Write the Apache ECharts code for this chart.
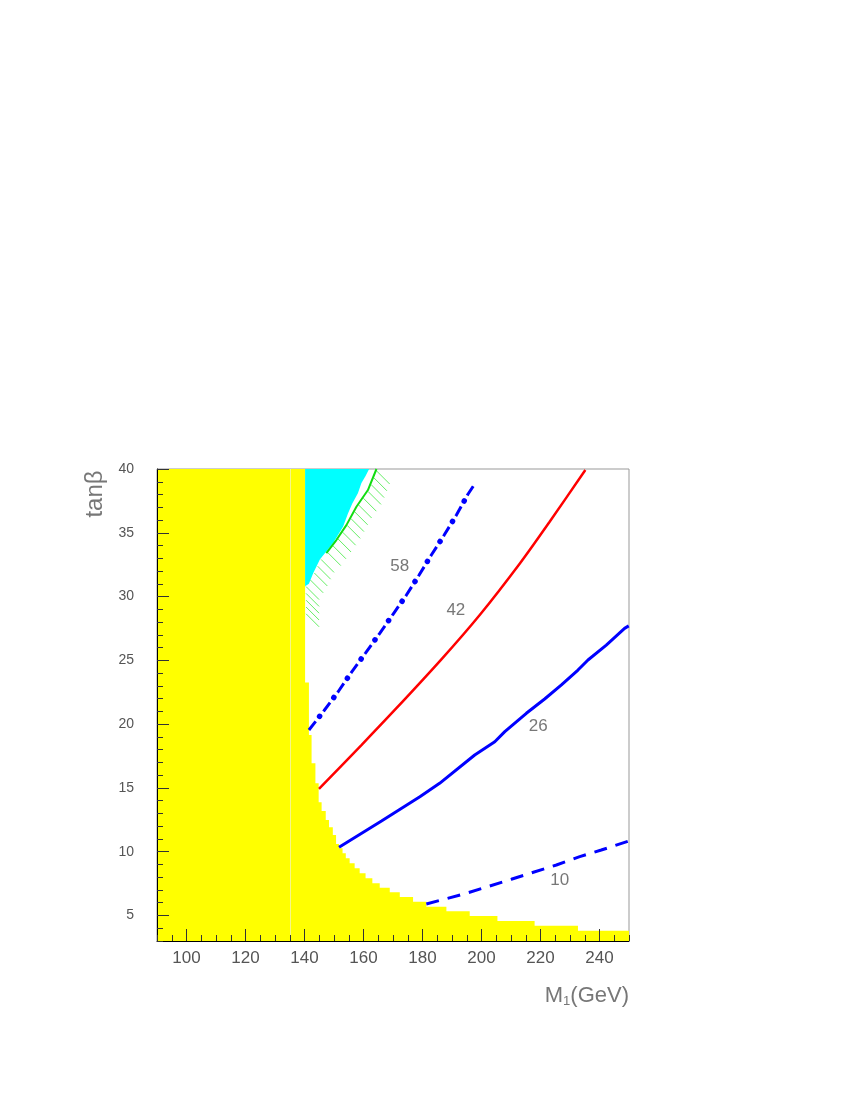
<!DOCTYPE html>
<html>
<head>
<meta charset="utf-8">
<script src="https://cdn.jsdelivr.net/npm/echarts@6/dist/echarts.min.js"></script>
<style>html,body{margin:0;padding:0;background:#fff}#c{width:850px;height:1100px}</style>
</head>
<body>
<div id="c"></div>
<script>
// ---------- data ----------
const xMajor = [100, 120, 140, 160, 180, 200, 220, 240];
const yMajor = [5, 10, 15, 20, 25, 30, 35, 40];

// excluded (yellow) region: step boundary, each y holds from its x to the next x
const yellowX = [90, 140.2, 141.5, 142.4, 143.7, 144.8, 145.8, 147.2, 148.3, 149.6, 150.7, 151.7, 152.9, 154.0, 155.3, 157.0, 158.7, 160.7, 163.0, 165.5, 168.9, 172.3, 176.8, 181.3, 188.1, 196.0, 205.4, 218.0, 232.7, 250];
const yellowY = [40, 23.26, 19.15, 16.93, 15.36, 13.87, 13.19, 12.49, 11.91, 11.31, 10.6, 10.27, 9.87, 9.48, 9.09, 8.70, 8.31, 7.92, 7.52, 7.18, 6.82, 6.45, 6.08, 5.69, 5.33, 4.96, 4.57, 4.20, 3.81, 3.81];
const faintLineX = 135;

// cyan region outline
const cyanX = [140.2, 161.9, 160.7, 159.3, 158.1, 156.2, 154.7, 153.1, 149.7, 145.2, 142.9, 141.5, 140.2];
const cyanY = [40, 40, 39.45, 38.9, 38.1, 37.3, 36.5, 35.5, 34.2, 32.9, 31.8, 31.0, 30.8];

// green limit curve
const greenX = [147.4, 150.8, 154.2, 157.6, 161.5, 164.4];
const greenY = [33.4, 34.43, 35.6, 37.04, 38.35, 40];

// hatched boundary (cyan edge continued by the green curve)
const hatchX = [140.2, 140.2, 142.9, 145.2, 147.4, 150.8, 154.2, 157.6, 161.5, 164.4];
const hatchY = [28.2, 30.8, 31.8, 32.9, 33.4, 34.43, 35.6, 37.04, 38.35, 40];

// contour 58 (blue dash-dot)
const c58X = [141.5, 146.6, 151.4, 155.9, 160.6, 165.5, 170.0, 174.5, 178.8, 183.0, 187.3, 191.5, 195.4, 197.7];
const c58Y = [19.54, 21.05, 22.54, 24.06, 25.55, 27.12, 28.61, 30.1, 31.67, 33.26, 34.8, 36.39, 38.02, 38.82];

// contour 42 (red)
const c42X = [144.9, 159.3, 170.6, 186.4, 199.4, 213.0, 223.1, 235.2];
const c42Y = [14.92, 18.36, 21.11, 25.08, 28.56, 32.6, 35.87, 39.92];

// contour 26 (blue solid)
const c26X = [151.7, 166.1, 179.1, 185.8, 197.7, 204.5, 207.9, 215.2, 221.4, 227.1, 232.7, 236.1, 242.3, 248.5, 249.9];
const c26Y = [10.35, 12.41, 14.31, 15.36, 17.58, 18.62, 19.41, 20.85, 21.97, 23.07, 24.24, 25.03, 26.2, 27.51, 27.7];

// contour 10 (blue dashed)
const c10X = [181.3, 194.9, 210.1, 225.4, 233.3, 240.6, 249.9];
const c10Y = [5.9, 6.74, 7.84, 8.96, 9.61, 10.13, 10.84];

// contour labels
const labelText = ['58', '42', '26', '10'];
const labelX = [172.3, 191.3, 219.2, 226.5];
const labelY = [32.4, 28.9, 19.85, 7.78];

// ---------- chart ----------
const zip = (xs, ys) => xs.map((x, i) => [x, ys[i]]);
const FONT = 'Liberation Sans';
const GREY = '#555';

const chart = echarts.init(document.getElementById('c'), null, {renderer: 'canvas'});

const option = {
  animation: false,
  backgroundColor: '#fff',
  grid: {left: 157, top: 469, right: 221, bottom: 159, show: true, borderColor: '#999', borderWidth: 1, backgroundColor: 'transparent'},
  xAxis: [
    {type: 'value', min: 90, max: 250, position: 'bottom', z: 10,
     axisLine: {show: true, lineStyle: {color: '#000', width: 1}},
     axisTick: {show: true, inside: true, length: 12, customValues: xMajor, lineStyle: {color: '#333'}},
     axisLabel: {customValues: xMajor, color: GREY, fontSize: 17, fontFamily: FONT, margin: 9},
     splitLine: {show: false}},
    {type: 'value', min: 90, max: 250, interval: 5, position: 'bottom', z: 10,
     axisLine: {show: false},
     axisTick: {show: true, inside: true, length: 6, lineStyle: {color: '#333'}},
     axisLabel: {show: false}, splitLine: {show: false}}
  ],
  yAxis: [
    {type: 'value', min: 3, max: 40, position: 'left', z: 10,
     axisLine: {show: true, lineStyle: {color: '#000', width: 1}},
     axisTick: {show: true, inside: true, length: 12, customValues: yMajor, lineStyle: {color: '#333'}},
     axisLabel: {customValues: yMajor, color: GREY, fontSize: 14, fontFamily: FONT, margin: 23},
     splitLine: {show: false}},
    {type: 'value', min: 3, max: 40, interval: 1, position: 'left', z: 10,
     axisLine: {show: false},
     axisTick: {show: true, inside: true, length: 6, lineStyle: {color: '#333'}},
     axisLabel: {show: false}, splitLine: {show: false}}
  ],
  graphic: [
    {type: 'text', x: 95, y: 494, rotation: Math.PI / 2,
     style: {text: 'tanβ', font: '24px "Liberation Sans"', fill: '#777', align: 'center', verticalAlign: 'middle'}},
    {type: 'text', x: 629, y: 996,
     style: {text: 'M{s|1}(GeV)', font: '22px "Liberation Sans"', fill: '#777', align: 'right', verticalAlign: 'middle',
             rich: {s: {fontSize: 13, fill: '#777', fontFamily: FONT, padding: [10, 0, 0, 0]}}}}
  ],
  series: [
    {type: 'line', name: 'excluded', data: zip(yellowX, yellowY), step: 'end', showSymbol: false, symbol: 'none',
     lineStyle: {width: 0}, areaStyle: {color: '#ffff00', opacity: 1, origin: 'start'}, z: 1, silent: true,
     markLine: {silent: true, symbol: 'none', label: {show: false},
       lineStyle: {color: '#f6f68a', width: 1, type: 'solid'},
       data: [[{coord: [faintLineX, 3]}, {coord: [faintLineX, 40]}]]}},
    {type: 'custom', name: 'cyan', data: [[cyanX[0], cyanY[0]]], clip: false, silent: true, z: 2,
     renderItem: (params, api) => ({
       type: 'polygon',
       shape: {points: cyanX.map((x, i) => api.coord([x, cyanY[i]]))},
       style: {fill: '#00ffff', stroke: null}
     })},
    {type: 'custom', name: 'hatch', data: [[hatchX[0], hatchY[0]]], clip: false, silent: true, z: 3,
     renderItem: (params, api) => {
       const pts = hatchX.map((x, i) => api.coord([x, hatchY[i]]));
       const children = [];
       const top = pts[pts.length - 1][1], bot = pts[0][1];
       for (let py = top + 2; py <= bot; py += 6.8) {
         let px = null;
         for (let k = 0; k < pts.length - 1; k++) {
           const a = pts[k], b = pts[k + 1];
           const lo = Math.min(a[1], b[1]), hi = Math.max(a[1], b[1]);
           if (py >= lo && py <= hi) {
             const t = hi === lo ? 0 : (py - a[1]) / (b[1] - a[1]);
             px = a[0] + t * (b[0] - a[0]);
             break;
           }
         }
         if (px === null) continue;
         children.push({type: 'line', shape: {x1: px + 1, y1: py, x2: px + 14, y2: py + 13},
                        style: {stroke: '#66ee66', lineWidth: 1}});
       }
       return {type: 'group', children};
     }},
    {type: 'line', name: 'green', data: zip(greenX, greenY), showSymbol: false, symbol: 'none', z: 4,
     lineStyle: {color: '#11dd11', width: 2}, silent: true},
    {type: 'line', name: '58 dashes', data: zip(c58X, c58Y), showSymbol: false, symbol: 'none', z: 5,
     lineStyle: {color: '#0000ff', width: 3, type: [11, 12.6], dashOffset: 0}, silent: true},
    {type: 'line', name: '58 dots', data: zip(c58X, c58Y), showSymbol: false, symbol: 'none', z: 5,
     lineStyle: {color: '#0000ff', width: 5.5, cap: 'round', type: [0.1, 23.5], dashOffset: 6.3}, silent: true},
    {type: 'line', name: '42', data: zip(c42X, c42Y), showSymbol: false, symbol: 'none', z: 5, smooth: 0.3,
     lineStyle: {color: '#ff0000', width: 2.5}, silent: true},
    {type: 'line', name: '26', data: zip(c26X, c26Y), showSymbol: false, symbol: 'none', z: 5,
     lineStyle: {color: '#0000ff', width: 3}, silent: true},
    {type: 'line', name: '10', data: zip(c10X, c10Y), showSymbol: false, symbol: 'none', z: 5,
     lineStyle: {color: '#0000ff', width: 3, type: [13, 9]}, silent: true},
    {type: 'scatter', name: 'labels', symbolSize: 0, z: 6, silent: true,
     data: labelText.map((t, i) => [labelX[i], labelY[i], t]),
     label: {show: true, position: 'inside', formatter: p => p.value[2], color: GREY, fontSize: 17, fontFamily: FONT}}
  ]
};
chart.setOption(option);
</script>
</body>
</html>
